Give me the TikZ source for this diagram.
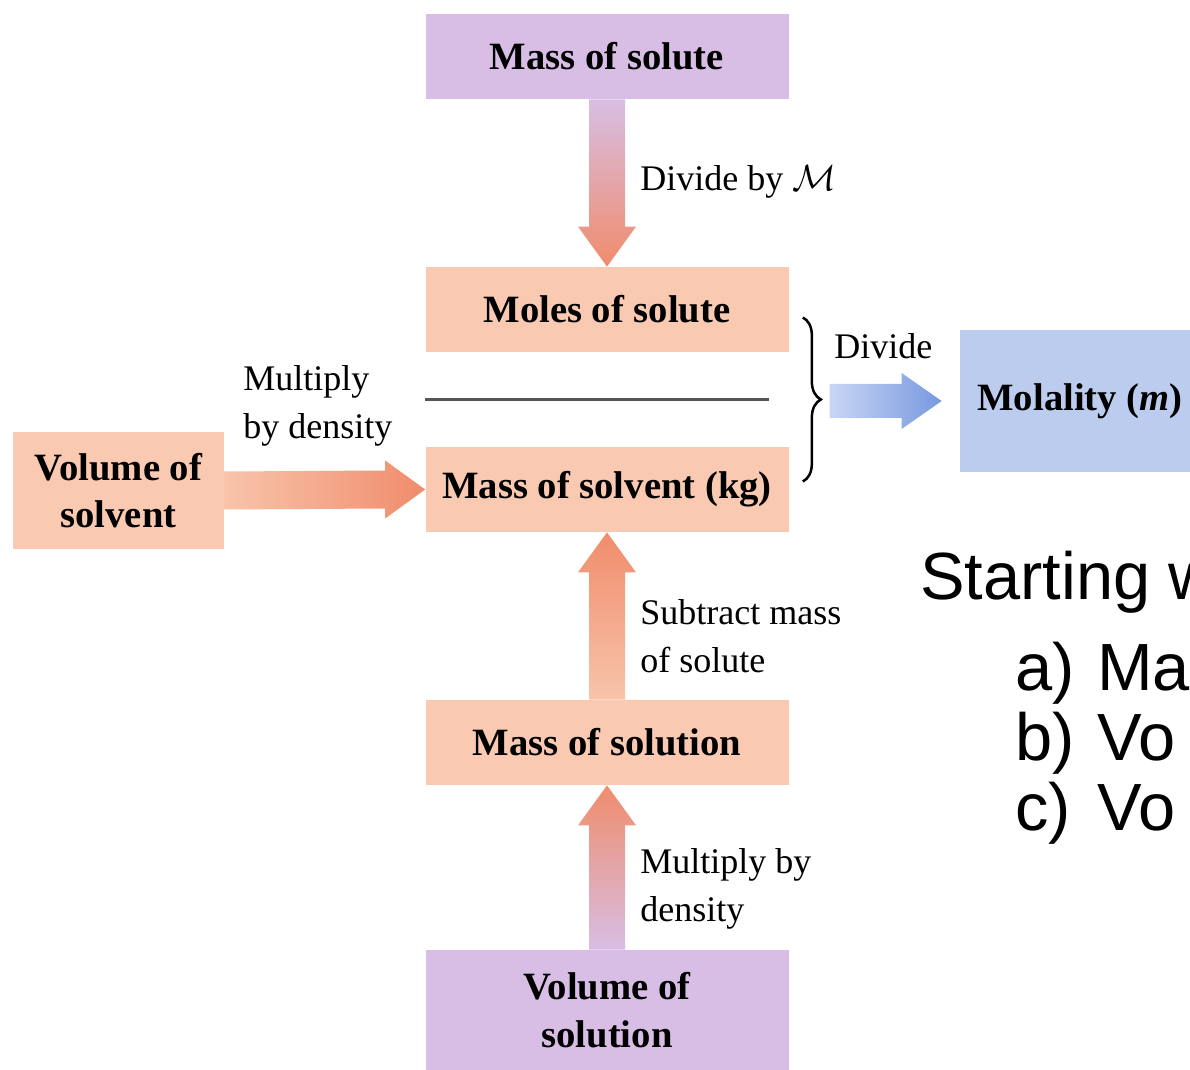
\documentclass[tikz,border=0pt]{standalone}
\usepackage{fontspec}
\setmainfont{Liberation Serif}
\newfontfamily\arialfont{Liberation Sans}
\usetikzlibrary{calc, decorations.pathreplacing}
\definecolor{boxpurple}{RGB}{216, 190, 228}
\definecolor{boxpeach}{RGB}{249, 201, 177}
\definecolor{boxblue}{RGB}{188, 204, 238}
\definecolor{arroworange}{RGB}{240, 140, 108}
\definecolor{arrowlight}{RGB}{248, 196, 170}
\definecolor{arrowblue}{RGB}{120, 152, 222}
\definecolor{arrowpale}{RGB}{200, 214, 244}
\definecolor{barline}{RGB}{85, 85, 85}

\tikzset{
	qbox/.style={inner sep=0pt, align=center, minimum width=363*0.02cm,
		minimum height=85*0.02cm, font=\fontsize{22}{27}\selectfont\bfseries},
	steplabel/.style={anchor=west, align=left, inner sep=0pt,
		font=\fontsize{20.5}{27}\selectfont},
	bigtext/.style={anchor=base west, inner sep=0pt,
		font=\arialfont\fontsize{38}{40}\selectfont}
}

\begin{document}
\begin{tikzpicture}[x=0.02cm, y=-0.02cm]
			\useasboundingbox (0, 0) rectangle (1190, 1070);
			\clip (0, 0) rectangle (1190, 1070);
			\def\sw{18}
			\def\hw{29}
			\def\hl{40}
			
			% boxes
			\node[qbox, fill=boxpurple] (msolute) at (607, 56.5) {Mass of solute};
			\node[qbox, fill=boxpeach] (moles) at (607, 309.5) {Moles of solute};
			\node[qbox, fill=boxpeach] (msolvent) at (607, 489.5) {Mass of solvent (kg)};
			\node[qbox, fill=boxpeach] (msolution) at (607, 742.5) {Mass of solution};
			\node[qbox, fill=boxpurple, minimum height=120*0.02cm] (vsolution) at (607, 1010) {Volume of\\solution};
			\node[qbox, fill=boxpeach, minimum width=211*0.02cm, minimum height=117*0.02cm] (vsolvent) at (118.5, 490.5) {Volume of\\solvent};
			\node[qbox, fill=boxblue, minimum width=240*0.02cm, minimum height=142*0.02cm] (molality) at (1080, 401) {Molality (\textit{m})};
			
			% fat arrows
			\shade[top color=boxpurple, bottom color=arroworange]
				($(msolute.south)+(-\sw,0)$) -- ($(moles.north)+(-\sw,-\hl)$) -- ($(moles.north)+(-\hw,-\hl)$)
				-- (moles.north) -- ($(moles.north)+(\hw,-\hl)$) -- ($(moles.north)+(\sw,-\hl)$)
				-- ($(msolute.south)+(\sw,0)$) -- cycle;
			\shade[top color=arroworange, bottom color=arrowlight]
				($(msolution.north)+(-\sw,0)$) -- ($(msolvent.south)+(-\sw,\hl)$) -- ($(msolvent.south)+(-\hw,\hl)$)
				-- (msolvent.south) -- ($(msolvent.south)+(\hw,\hl)$) -- ($(msolvent.south)+(\sw,\hl)$)
				-- ($(msolution.north)+(\sw,0)$) -- cycle;
			\shade[top color=arroworange, bottom color=boxpurple]
				($(vsolution.north)+(-\sw,0)$) -- ($(msolution.south)+(-\sw,\hl)$) -- ($(msolution.south)+(-\hw,\hl)$)
				-- (msolution.south) -- ($(msolution.south)+(\hw,\hl)$) -- ($(msolution.south)+(\sw,\hl)$)
				-- ($(vsolution.north)+(\sw,0)$) -- cycle;
			\shade[left color=arrowlight, right color=arroworange]
				($(vsolvent.east)+(0,-19)$) -- ($(msolvent.west)+(-\hl,-19)$) -- ($(msolvent.west)+(-\hl,-\hw)$)
				-- (msolvent.west) -- ($(msolvent.west)+(-\hl,\hw)$) -- ($(msolvent.west)+(-\hl,19)$)
				-- ($(vsolvent.east)+(0,19)$) -- cycle;
			\coordinate (bluestart) at ($(molality.west)+(-130,0)$);
			\shade[left color=arrowpale, right color=arrowblue]
				($(bluestart)+(0,-17)$) -- ($(molality.west)+(-58,-17)$) -- ($(molality.west)+(-58,-28)$)
				-- ($(molality.west)+(-18,0)$) -- ($(molality.west)+(-58,28)$) -- ($(molality.west)+(-58,17)$)
				-- ($(bluestart)+(0,17)$) -- cycle;
			
			% fraction bar and brace
			\draw[barline, line width=3*0.02cm] ($(moles.south west)!0.5!(msolvent.north west)$) -- ++(344, 0);
			\draw[black, line width=2.5*0.02cm, decorate, decoration={brace, amplitude=18*0.02cm}]
				($(moles.east)+(14,8)$) -- ($(msolvent.east)+(14,-8)$);
			
			% step labels
			\node[steplabel] (ldivm) at (640, 182) {Divide by $\mathcal{M}$};
			\node[steplabel] (ldiv) at (834, 346) {Divide};
			\node[steplabel] (lmultv) at (243, 406) {Multiply\\by density};
			\node[steplabel] (lsub) at (640, 636) {Subtract mass\\of solute};
			\node[steplabel] (lmults) at (640, 889) {Multiply by\\density};
			
			% question text
			\node[bigtext] (qhead) at (920, 600) {Starting w};
			\foreach \k/\lab/\word [count=\i] in {a/a)/Ma, b/b)/Vo, c/c)/Vo} {
				\node[bigtext] (q\k) at (1015, 620+70*\i) {\lab};
				\node[bigtext] (w\k) at (1097, 620+70*\i) {\word};
			}
			
		\end{tikzpicture}
\end{document}
